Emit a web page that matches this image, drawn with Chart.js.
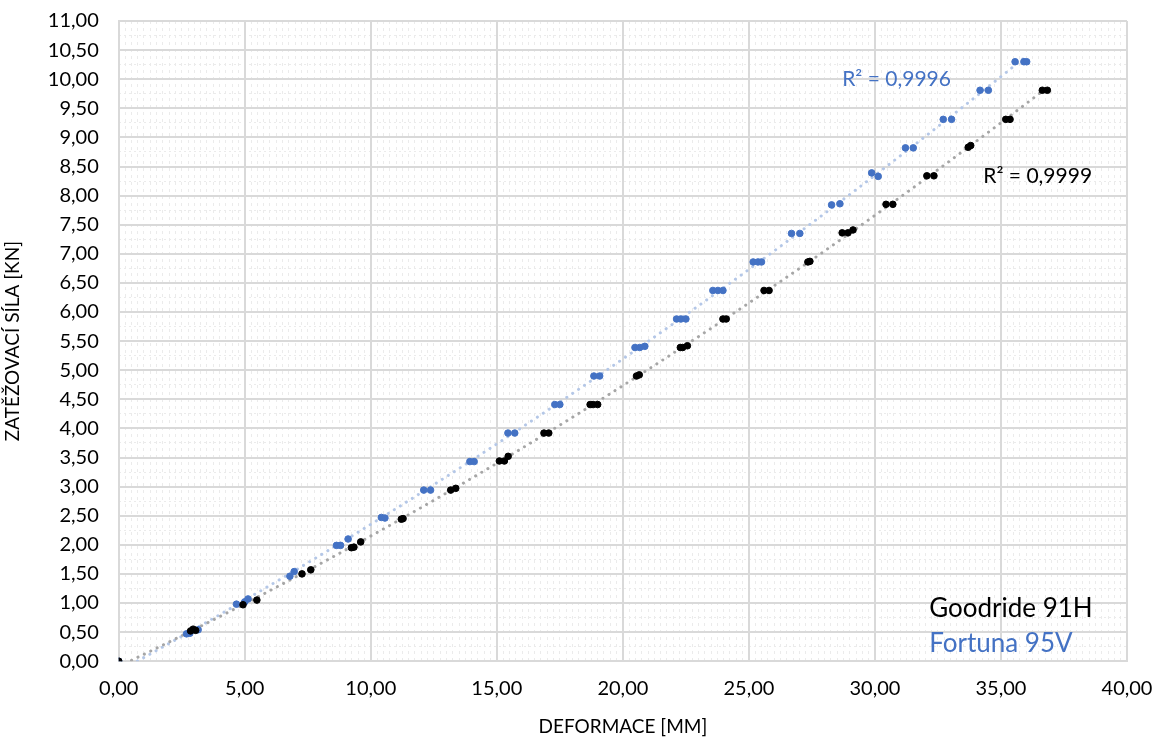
<!DOCTYPE html>
<html>
<head>
<meta charset="utf-8">
<script src="https://cdn.jsdelivr.net/npm/chart.js@4.4.1/dist/chart.umd.min.js"></script>
<style>
  html, body { margin: 0; padding: 0; background: #fff; }
  #wrap { width: 1157px; height: 740px; }
</style>
</head>
<body>
<div id="wrap"><canvas id="chart" width="1157" height="740"></canvas></div>
<script>
// Goodride 91H (black) - deformation [mm] / load [kN]
const goodrideX = [0, 2.85, 2.95, 3.05, 4.93, 5.48, 7.27, 7.62, 9.23, 9.33, 9.6, 11.21, 11.28,
  13.17, 13.37, 15.1, 15.3, 15.45, 16.87, 17.06, 18.7, 18.82, 19.0, 20.54, 20.65,
  22.28, 22.37, 22.56, 23.97, 24.1, 25.6, 25.8, 27.34, 27.42, 28.7, 28.93, 29.13,
  30.44, 30.71, 32.06, 32.34, 33.7, 33.8, 35.19, 35.36, 36.64, 36.84];
const goodrideY = [0, 0.52, 0.55, 0.53, 0.97, 1.05, 1.50, 1.57, 1.95, 1.96, 2.05, 2.44, 2.45,
  2.94, 2.97, 3.44, 3.44, 3.52, 3.92, 3.92, 4.41, 4.41, 4.41, 4.90, 4.92,
  5.39, 5.39, 5.42, 5.88, 5.88, 6.37, 6.37, 6.86, 6.87, 7.36, 7.36, 7.41,
  7.85, 7.85, 8.34, 8.34, 8.83, 8.86, 9.31, 9.31, 9.81, 9.81];

// Fortuna 95V (blue)
const fortunaX = [0, 2.69, 2.82, 3.15, 4.67, 5.0, 5.13, 6.79, 6.96, 8.64, 8.8, 9.1, 10.42, 10.56,
  12.1, 12.37, 13.93, 14.1, 15.44, 15.71, 17.3, 17.5, 18.85, 19.08, 20.48, 20.67, 20.87,
  22.13, 22.3, 22.5, 23.57, 23.77, 23.97, 25.17, 25.36, 25.5, 26.69, 27.02,
  28.28, 28.61, 29.87, 30.13, 31.21, 31.52, 32.71, 33.04, 34.17, 34.5, 35.56, 35.91, 36.02];
const fortunaY = [0, 0.47, 0.48, 0.54, 0.98, 1.02, 1.07, 1.46, 1.54, 1.99, 1.99, 2.10, 2.47, 2.46,
  2.94, 2.94, 3.43, 3.43, 3.92, 3.92, 4.41, 4.41, 4.90, 4.90, 5.39, 5.39, 5.41,
  5.88, 5.88, 5.88, 6.37, 6.37, 6.37, 6.86, 6.86, 6.86, 7.35, 7.35,
  7.84, 7.86, 8.39, 8.33, 8.82, 8.82, 9.31, 9.31, 9.81, 9.81, 10.30, 10.30, 10.30];

const seriesNames = ['Goodride 91H', 'Fortuna 95V'];
const rSquaredLabels = ['R² = 0,9999', 'R² = 0,9996'];

const xTicksMax = 40, xStep = 5;
const yTicksMax = 11, yStep = 0.5;

const FONT = 'Lato, "Open Sans", sans-serif';
const BLUE = '#4472c4';

function toPoints(xs, ys) {
  return xs.map((x, i) => ({ x: x, y: ys[i] }));
}

// 2nd order polynomial trendline (least squares), sampled over the data range
function trend(xs, ys) {
  const s = [0, 0, 0, 0, 0], t = [0, 0, 0];
  for (let i = 0; i < xs.length; i++) {
    for (let p = 0; p < 5; p++) s[p] += Math.pow(xs[i], p);
    for (let p = 0; p < 3; p++) t[p] += ys[i] * Math.pow(xs[i], p);
  }
  // solve 3x3 normal equations (Cramer)
  const m = [[s[0], s[1], s[2]], [s[1], s[2], s[3]], [s[2], s[3], s[4]]];
  const det = a => a[0][0] * (a[1][1] * a[2][2] - a[1][2] * a[2][1])
    - a[0][1] * (a[1][0] * a[2][2] - a[1][2] * a[2][0])
    + a[0][2] * (a[1][0] * a[2][1] - a[1][1] * a[2][0]);
  const d = det(m);
  const c = [0, 1, 2].map(j => det(m.map((row, r) => row.map((v, k) => (k === j ? t[r] : v)))) / d);
  const x0 = Math.min(...xs), x1 = Math.max(...xs);
  const pts = [];
  for (let i = 0; i <= 80; i++) {
    const x = x0 + (x1 - x0) * i / 80;
    pts.push({ x: x, y: c[0] + c[1] * x + c[2] * x * x });
  }
  return pts;
}

const comma = v => v.toFixed(2).replace('.', ',');

// texts drawn in the plot: R² values and the text legend
const textPlugin = {
  id: 'texts',
  afterDatasetsDraw(chart) {
    const { ctx } = chart;
    const xs = chart.scales.x, ys = chart.scales.y;
    ctx.save();
    ctx.textBaseline = 'middle';
    ctx.textAlign = 'left';
    ctx.font = '21px ' + FONT;
    ctx.fillStyle = BLUE;
    ctx.fillText(rSquaredLabels[1], xs.getPixelForValue(28.7), ys.getPixelForValue(10.0));
    ctx.fillStyle = '#000';
    ctx.fillText(rSquaredLabels[0], xs.getPixelForValue(34.3), ys.getPixelForValue(8.34));
    ctx.font = '26px ' + FONT;
    ctx.fillStyle = '#000';
    ctx.fillText(seriesNames[0], xs.getPixelForValue(32.15), ys.getPixelForValue(0.9));
    ctx.fillStyle = BLUE;
    ctx.fillText(seriesNames[1], xs.getPixelForValue(32.15), ys.getPixelForValue(0.3));
    ctx.restore();
  }
};

const zeroSize = function (scale) { scale.width = 0; scale.height = 0; };

new Chart(document.getElementById('chart'), {
  type: 'scatter',
  data: {
    datasets: [
      {
        label: seriesNames[0] + ' trend',
        data: trend(goodrideX, goodrideY),
        showLine: true,
        borderColor: '#a6a6a6',
        borderWidth: 3,
        borderDash: [0.1, 7],
        borderCapStyle: 'round',
        pointRadius: 0,
        order: 3
      },
      {
        label: seriesNames[1] + ' trend',
        data: trend(fortunaX, fortunaY),
        showLine: true,
        borderColor: '#b4c7e7',
        borderWidth: 3,
        borderDash: [0.1, 7],
        borderCapStyle: 'round',
        pointRadius: 0,
        order: 3
      },
      {
        label: seriesNames[0],
        data: toPoints(goodrideX, goodrideY),
        backgroundColor: '#000',
        borderColor: '#000',
        pointRadius: 3.3,
        order: 1
      },
      {
        label: seriesNames[1],
        data: toPoints(fortunaX, fortunaY),
        backgroundColor: BLUE,
        borderColor: BLUE,
        pointRadius: 3.3,
        order: 2
      }
    ]
  },
  plugins: [textPlugin],
  options: {
    responsive: false,
    animation: false,
    layout: { padding: { left: 1, right: 0, top: 0, bottom: 0 } },
    plugins: {
      legend: { display: false },
      tooltip: { enabled: false }
    },
    scales: {
      xMinor: {
        type: 'linear', axis: 'x', position: 'bottom',
        min: 0, max: xTicksMax,
        ticks: { display: false, stepSize: 0.25 },
        grid: { color: '#ebebeb', lineWidth: 1, drawTicks: false },
        border: { display: false, dash: [3, 4] },
        afterFit: zeroSize
      },
      yMinor: {
        type: 'linear', axis: 'y', position: 'left',
        min: 0, max: yTicksMax,
        ticks: { display: false, stepSize: 0.25 },
        grid: { color: '#ebebeb', lineWidth: 1, drawTicks: false },
        border: { display: false, dash: [2, 3] },
        afterFit: zeroSize
      },
      x: {
        type: 'linear', min: 0, max: xTicksMax,
        ticks: {
          stepSize: xStep, color: '#000', padding: 17,
          font: { family: FONT, size: 20, lineHeight: 1 },
          callback: v => comma(v)
        },
        grid: { color: '#d9d9d9', lineWidth: 2, drawTicks: false },
        border: { color: '#d9d9d9', width: 2 },
        title: {
          display: true, text: 'DEFORMACE [MM]', color: '#000',
          font: { family: FONT, size: 19 }, padding: { top: 0, bottom: 2 }
        },
        afterFit: scale => { scale.paddingRight = 30; }
      },
      y: {
        type: 'linear', min: 0, max: yTicksMax,
        ticks: {
          stepSize: yStep, color: '#000', padding: 20,
          font: { family: FONT, size: 20 },
          callback: v => comma(v)
        },
        grid: { color: '#d9d9d9', lineWidth: 2, drawTicks: false },
        border: { color: '#d9d9d9', width: 2 },
        title: {
          display: true, text: 'ZATĚŽOVACÍ SÍLA [KN]', color: '#000',
          font: { family: FONT, size: 19 }, padding: { top: 0, bottom: 4 }
        },
        afterFit: scale => { scale.paddingTop = 21; }
      }
    }
  }
});
</script>
</body>
</html>
